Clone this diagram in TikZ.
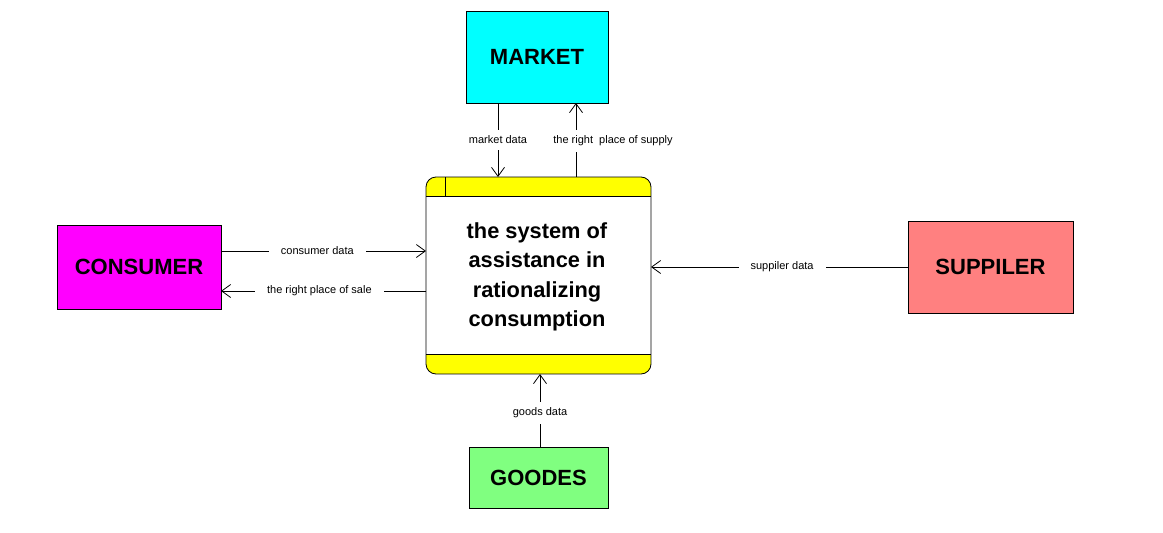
\documentclass[tikz,border=0pt]{standalone}
\usepackage{fontspec}
\setmainfont{Liberation Sans}
\usetikzlibrary{arrows.meta}
\definecolor{cyanbox}{RGB}{0,255,255}
\definecolor{magbox}{RGB}{255,0,255}
\definecolor{salbox}{RGB}{255,128,128}
\definecolor{grnbox}{RGB}{128,255,128}
\definecolor{yelband}{RGB}{255,255,0}
\begin{document}
\begin{tikzpicture}[x=1pt,y=-1pt,
  ext/.style={draw=black,line width=0.8pt,inner sep=0pt,font=\bfseries\fontsize{22}{24}\selectfont},
  lbl/.style={fill=white,inner xsep=12pt,inner ysep=6pt,font=\fontsize{11}{12}\selectfont},
  flow/.style={line width=0.8pt,-{Straight Barb[length=9pt,width=13pt,line width=0.8pt]}}]
\useasboundingbox (0,0) rectangle (1163,533);
% external entities
\node[ext,fill=cyanbox,minimum width=142pt,minimum height=92pt] (market) at (537,57) {MARKET};
\node[ext,fill=magbox,minimum width=164pt,minimum height=84pt] (consumer) at (139,267) {CONSUMER};
\node[ext,fill=salbox,minimum width=165pt,minimum height=92pt] (supp) at (990.5,267) {SUPPILER};
\node[ext,fill=grnbox,minimum width=139pt,minimum height=61pt] (goods) at (538.5,477.5) {GOODES};
% process
\begin{scope}
\clip[rounded corners=10pt] (426,177) rectangle (651,374);
\fill[yelband] (426,177) rectangle (651,196);
\fill[yelband] (426,354) rectangle (651,374);
\draw[line width=0.8pt] (426,196) -- (651,196);
\draw[line width=0.8pt] (426,354) -- (651,354);
\draw[line width=0.8pt] (445,177) -- (445,196);
\end{scope}
\node[draw,line width=0.8pt,rounded corners=10pt,minimum width=225pt,minimum height=197pt,inner sep=0pt] (proc) at (538.5,275.5) {};
\node[align=center,font=\bfseries\fontsize{21.8}{29.3}\selectfont] (ptext) at (537,277) {the system of\\assistance in\\rationalizing\\consumption};
% flows
\coordinate (mA) at (498,103);
\coordinate (mB) at (498,177);
\coordinate (sA) at (576,177);
\coordinate (sB) at (576,103);
\draw[flow] (mA) -- node[lbl,pos=0.5] (lmd) {market data} (mB);
\draw[flow] (sA) -- (sB);
\node[lbl] (lsup) at (613,141) {the right\ \ place of supply};
\coordinate (cA) at (221,251);
\coordinate (cB) at (426,251);
\draw[flow] (cA) -- node[lbl,pos=0.47] (lcd) {consumer data} (cB);
\coordinate (rA) at (426,291);
\coordinate (rB) at (221,291);
\draw[flow] (rA) -- node[lbl,pos=0.52] (lrs) {the right place of sale} (rB);
\coordinate (uA) at (908,267);
\coordinate (uB) at (651,267);
\draw[flow] (uA) -- node[lbl,pos=0.49] (lsd) {suppiler data} (uB);
\coordinate (gA) at (540,447);
\coordinate (gB) at (540,374);
\draw[flow] (gA) -- node[lbl,pos=0.47] (lgd) {goods data} (gB);
\end{tikzpicture}
\end{document}
